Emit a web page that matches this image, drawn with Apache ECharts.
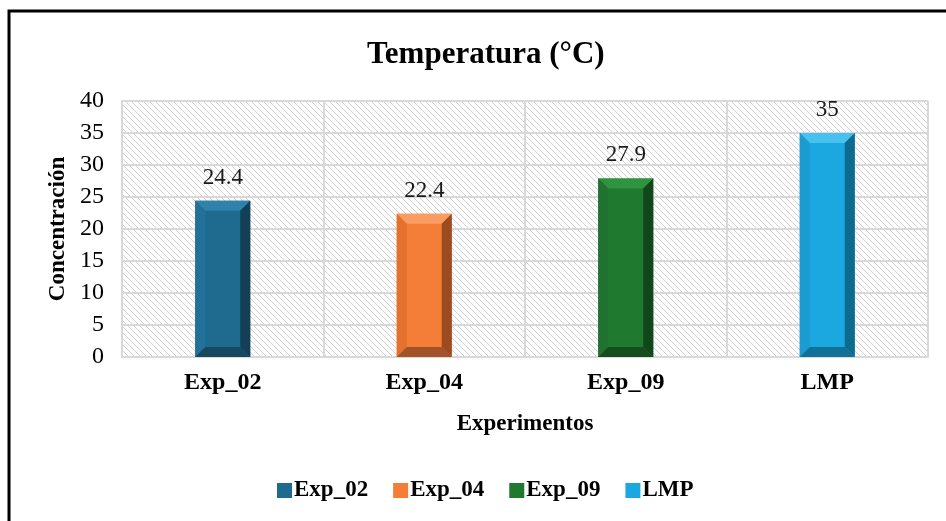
<!DOCTYPE html>
<html>
<head>
<meta charset="utf-8">
<script src="https://cdn.jsdelivr.net/npm/echarts@6/dist/echarts.min.js"></script>
<style>
  html, body { margin: 0; padding: 0; background: #fff; }
  #chart { width: 946px; height: 521px; }
</style>
</head>
<body>
<div id="chart"></div>
<script>
// Data
const categories = ['Exp_02', 'Exp_04', 'Exp_09', 'LMP'];
const values = [24.4, 22.4, 27.9, 35];
const seriesNames = ['Exp_02', 'Exp_04', 'Exp_09', 'LMP'];
const yTicks = { min: 0, max: 40, interval: 5 };

// Bevel shades per series
const palette = [
  { base: '#1f6a8f', top: '#2f82a9', left: '#23709a', right: '#133f57', bottom: '#184860' },
  { base: '#f47d37', top: '#f99d62', left: '#e5712f', right: '#9a4b20', bottom: '#a3532a' },
  { base: '#1f7a30', top: '#2f9340', left: '#217232', right: '#12461b', bottom: '#164d20' },
  { base: '#1ba7e0', top: '#47c2ef', left: '#1a9cd3', right: '#0f6a90', bottom: '#137198' }
];

const serif = '"Liberation Serif", "Times New Roman", serif';

// Diagonal hatch fill for the plotting area
function hatchPattern() {
  const c = document.createElement('canvas');
  const s = 6;
  c.width = s; c.height = s;
  const g = c.getContext('2d');
  g.fillStyle = '#ffffff';
  g.fillRect(0, 0, s, s);
  g.strokeStyle = '#d2d2d2';
  g.lineWidth = 1;
  g.beginPath();
  g.moveTo(0, 0); g.lineTo(s, s);
  g.moveTo(-s / 2, s / 2); g.lineTo(s / 2, s * 1.5);
  g.moveTo(s / 2, -s / 2); g.lineTo(s * 1.5, s / 2);
  g.stroke();
  return c;
}

function bevelBar(colors) {
  return function (params, api) {
    const x = api.value(0);
    const v = api.value(1);
    const top = api.coord([x, v]);
    const bot = api.coord([x, 0]);
    const w = api.size([1, 0])[0] * 0.273;
    const x0 = top[0] - w / 2, x1 = top[0] + w / 2;
    const y0 = top[1], y1 = bot[1];
    const b = 10;
    return {
      type: 'group',
      children: [
        { type: 'rect', shape: { x: x0, y: y0, width: w, height: y1 - y0 }, style: { fill: colors.base } },
        { type: 'polygon', shape: { points: [[x0, y0], [x1, y0], [x1 - b, y0 + b], [x0 + b, y0 + b]] }, style: { fill: colors.top } },
        { type: 'polygon', shape: { points: [[x0, y0], [x0 + b, y0 + b], [x0 + b, y1 - b], [x0, y1]] }, style: { fill: colors.left } },
        { type: 'polygon', shape: { points: [[x1, y0], [x1, y1], [x1 - b, y1 - b], [x1 - b, y0 + b]] }, style: { fill: colors.right } },
        { type: 'polygon', shape: { points: [[x0, y1], [x1, y1], [x1 - b, y1 - b], [x0 + b, y1 - b]] }, style: { fill: colors.bottom } },
        { type: 'text', style: { text: String(v), x: top[0], y: y0 - 23, align: 'center', verticalAlign: 'middle', fill: '#1a1a1a', font: '23px ' + serif } }
      ]
    };
  };
}

const series = seriesNames.map(function (name, i) {
  return {
    name: name,
    type: 'custom',
    renderItem: bevelBar(palette[i]),
    itemStyle: { color: palette[i].base },
    encode: { x: 0, y: 1 },
    data: [[i, values[i]]],
    z: 3
  };
});

const chart = echarts.init(document.getElementById('chart'), null, { renderer: 'canvas' });
chart.setOption({
  backgroundColor: '#ffffff',
  animation: false,
  title: {
    text: 'Temperatura (°C)',
    left: 362,
    top: 34,
    textStyle: { fontFamily: serif, fontWeight: 'bold', fontSize: 31, color: '#000' }
  },
  graphic: [{
    type: 'rect',
    shape: { x: 9, y: 11, width: 1200, height: 1200 },
    style: { fill: null, stroke: '#000', lineWidth: 3 },
    silent: true
  }],
  legend: {
    bottom: 14,
    left: 272,
    itemWidth: 15,
    itemHeight: 15,
    itemGap: 25,
    icon: 'rect',
    textStyle: { fontFamily: serif, fontWeight: 'bold', fontSize: 23, color: '#000', padding: [2, 0, 0, -3] },
    data: seriesNames
  },
  grid: {
    left: 122, right: 18, top: 101, bottom: 164,
    show: true,
    borderWidth: 0,
    backgroundColor: { image: hatchPattern(), repeat: 'repeat' }
  },
  xAxis: {
    type: 'category',
    data: categories,
    name: 'Experimentos',
    nameLocation: 'middle',
    nameGap: 56,
    nameTextStyle: { fontFamily: serif, fontWeight: 'bold', fontSize: 23, color: '#000' },
    axisLine: { show: true, lineStyle: { color: '#d9d9d9', width: 2 } },
    axisTick: { show: false },
    axisLabel: { fontFamily: serif, fontWeight: 'bold', fontSize: 24, color: '#000', margin: 14 },
    splitLine: { show: true, lineStyle: { color: '#d9d9d9', width: 2 } }
  },
  yAxis: {
    type: 'value',
    min: yTicks.min,
    max: yTicks.max,
    interval: yTicks.interval,
    name: 'Concentración',
    nameLocation: 'middle',
    nameGap: 48,
    nameTextStyle: { fontFamily: serif, fontWeight: 'bold', fontSize: 23, color: '#000' },
    axisLine: { show: true, lineStyle: { color: '#d9d9d9', width: 2 } },
    axisTick: { show: false },
    axisLabel: { fontFamily: serif, fontSize: 24, color: '#000', margin: 18 },
    splitLine: { show: true, lineStyle: { color: '#d9d9d9', width: 2 } }
  },
  series: series
});
</script>
</body>
</html>
